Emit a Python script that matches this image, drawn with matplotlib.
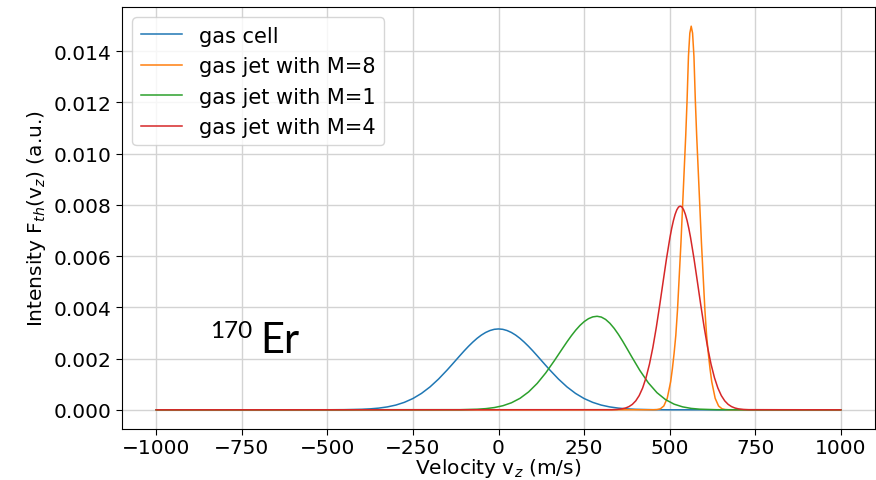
import matplotlib
matplotlib.use("Agg")
import matplotlib.pyplot as plt

# ---- data ----
# gas cell (blue)
cell_v = [-1000, -500, -450, -400, -375, -350, -325, -300, -275, -250, -225, -200, -175, -150, -137.5, -125, -112.5,
          -100, -87.5, -75, -62.5, -50, -37.5, -25, -12.5,
          0, 12.5, 25, 37.5, 50, 62.5, 75, 87.5, 100, 112.5, 125, 137.5, 150, 175, 200, 225, 250, 275, 300, 325,
          350, 375, 400, 450, 500, 1000]
cell_f = [0.0, 0.0000012, 0.0000054, 0.0000205, 0.0000377, 0.0000666, 0.000113, 0.000185, 0.000292, 0.000441, 0.000641,
          0.000895, 0.001203, 0.001554, 0.001740, 0.001929, 0.002118,
          0.002304, 0.002480, 0.002643, 0.002791, 0.002917, 0.003019, 0.003094, 0.003141,
          0.003156, 0.003141, 0.003094, 0.003019, 0.002917, 0.002791, 0.002643, 0.002480, 0.002304, 0.002118,
          0.001929, 0.001740, 0.001554, 0.001203, 0.000895, 0.000641, 0.000441, 0.000292, 0.000185, 0.000113,
          0.0000666, 0.0000377, 0.0000205, 0.0000054, 0.0000012, 0.0]

# gas jet M=8 (orange)
m8_v = [-1000, 453, 463, 473, 483, 493, 503, 508, 513, 518, 523, 528, 533, 538, 543, 547, 551, 555, 559,
        563, 567, 571, 575, 579, 583, 588, 593, 598, 603, 608, 613, 618, 623, 633, 643, 653, 663, 673, 1000]
m8_f = [0.0, 0.000002, 0.00001, 0.00004, 0.00015, 0.00045, 0.0011, 0.0016, 0.0022, 0.0029, 0.0039, 0.0052, 0.0065,
        0.0080, 0.0095, 0.0107, 0.0121, 0.0138, 0.0147,
        0.01497, 0.0147, 0.0138, 0.0121, 0.0107, 0.0095, 0.0080, 0.0065, 0.0052, 0.0039, 0.0029, 0.0022, 0.0016,
        0.0011, 0.00045, 0.00015, 0.00004, 0.00001, 0.000002, 0.0]

# gas jet M=1 (green)
m1_v = [-1000, -112, -62, -37, -12, 13, 38, 63, 88, 113, 138, 163, 188, 200.5, 213, 225.5, 238, 250.5, 263, 275.5,
        288, 300.5, 313, 325.5, 338, 350.5, 363, 375.5, 388, 413, 438, 463, 488, 513, 538, 563, 588, 638, 1000]
m1_f = [0.0, 0.0000049, 0.0000231, 0.0000464, 0.0000887, 0.000160, 0.000276, 0.000450, 0.000699, 0.001030, 0.001440,
        0.001914, 0.002414, 0.002660, 0.002893, 0.003106, 0.003292, 0.003444, 0.003557, 0.003627,
        0.003650, 0.003619, 0.003526, 0.003376, 0.003178, 0.002940, 0.002673, 0.002388, 0.002098, 0.001536,
        0.001049, 0.000669, 0.000398, 0.000221, 0.000115, 0.0000553, 0.0000249, 0.0000041, 0.0]

# gas jet M=4 (red)
m4_v = [-1000, 331, 346, 361, 371, 381, 391, 401, 411, 421, 431, 441, 451, 461, 471, 481, 491, 501, 506, 511, 516, 521,
        526, 531, 536, 541, 546, 551, 556, 561, 571, 581, 591, 601, 611, 621, 631, 641, 651, 661, 671, 681, 691, 701,
        716, 731, 1000]
m4_f = [0.0, 0.0000049, 0.0000142, 0.000038, 0.000070, 0.000124, 0.000212, 0.000349, 0.000555, 0.000848, 0.001251,
        0.001778, 0.002434, 0.003213, 0.004086, 0.005007, 0.005914, 0.006731, 0.007082, 0.007383, 0.007626, 0.007804,
        0.007913, 0.00795, 0.007913, 0.007804, 0.007626, 0.007383, 0.007082, 0.006731, 0.005914, 0.005007,
        0.004086, 0.003213, 0.002434, 0.001778, 0.001251, 0.000848, 0.000555, 0.000349, 0.000212, 0.000124,
        0.000070, 0.000038, 0.0000142, 0.0000049, 0.0]

labels = ["gas cell", "gas jet with M=8", "gas jet with M=1", "gas jet with M=4"]
colors = ["#1f77b4", "#ff7f0e", "#2ca02c", "#d62728"]
x_ticks = [-1000, -750, -500, -250, 0, 250, 500, 750, 1000]
y_ticks = [0.000, 0.002, 0.004, 0.006, 0.008, 0.010, 0.012, 0.014]

fig = plt.figure(figsize=(8.76, 4.81), dpi=100)
ax = fig.add_axes([122 / 876, 51 / 481, 753 / 876, 422 / 481])

series = [(cell_v, cell_f), (m8_v, m8_f), (m1_v, m1_f), (m4_v, m4_f)]
for (v, f), lab, c in zip(series, labels, colors):
    ax.plot(v, f, color=c, lw=1.1, label=lab)

ax.set_xticks(x_ticks)
ax.set_yticks(y_ticks)
ax.set_yticklabels([f"{t:.3f}" for t in y_ticks])
ax.set_xticklabels([str(t).replace("-", "\u2212") for t in x_ticks])
ax.tick_params(labelsize=14.5, length=4)
ax.tick_params(axis="x", pad=2.5)
ax.grid(True, color="#d3d3d3", lw=1.0)
ax.set_axisbelow(True)
ax.set_xlabel("Velocity v$_z$ (m/s)", fontsize=14.5, labelpad=-1)
ax.set_ylabel("Intensity F$_{th}$(v$_z$) (a.u.)", fontsize=14.5)
ax.legend(loc="upper left", fontsize=15)

fig.text(210.5 / 876, (481 - 338.3) / 481, "170", fontsize=17.5, family=["Lato", "DejaVu Sans"], va="baseline")
fig.text(260.5 / 876, (481 - 353.3) / 481, "Er", fontsize=30, family=["Lato", "DejaVu Sans"], va="baseline")

fig.savefig("out.png", dpi=100)
